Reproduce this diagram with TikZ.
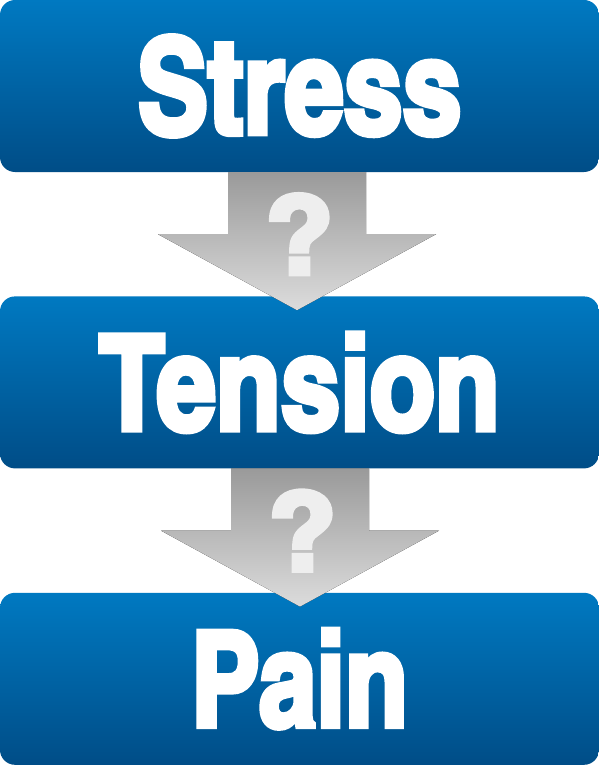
\documentclass[tikz,border=0pt]{standalone}
\usepackage{graphicx}
\usepackage{fontspec}
\setmainfont{texgyreheroscn}[Extension=.otf, UprightFont=*-regular, BoldFont=*-bold,
  BoldFeatures={FakeBold=4}]
\usepackage{tikz}
\usetikzlibrary{positioning}
\usetikzlibrary{calc}

\definecolor{boxtop}{HTML}{0079C1}
\definecolor{boxbot}{HTML}{004D87}
\definecolor{arrtop}{HTML}{9A9A9A}
\definecolor{arrbot}{HTML}{DCDCDC}
\definecolor{qmark}{HTML}{EEEEEE}

\tikzset{
  stage/.style={rounded corners=15pt, top color=boxtop, bottom color=boxbot,
    minimum width=599pt, minimum height=172pt, inner sep=0pt,
    text=white, font=\bfseries},
  qsign/.style={text=qmark, inner sep=0pt, font=\bfseries}
}

\begin{document}
\begin{tikzpicture}[x=1pt,y=-1pt]
\useasboundingbox (0,0) rectangle (599,765);
\fill[white] (0,0) rectangle (599,765);

%stopnie
\node[stage] (stress) at (299.5,86) {\raisebox{-2pt}{\resizebox{324pt}{98pt}{Stress}}};
\node[stage, below=124pt of stress] (tension) {\raisebox{-2pt}{\resizebox{400pt}{97pt}{Tension}}};
\node[stage, below=124pt of tension] (pain) {\raisebox{-2pt}{\resizebox{217pt}{97pt}{Pain}}};

%strzalki z pytajnikiem
\foreach \a/\b/\dx in {stress/tension/-2.5, tension/pain/0.5}
{
  \fill[top color=arrtop, bottom color=arrbot]
    ($(\a.south)+(\dx-69,0)$) -- ++(0,62) -- ++(-70,0)
    -- ($(\b.north)+(\dx,14)$)
    -- ($(\a.south)+(\dx+139,62)$) -- ++(-70,0)
    -- ($(\a.south)+(\dx+69,0)$) -- cycle;
  \node[qsign] (q\a) at ($(\a.south)+(\dx+2,62)$) {\resizebox{68pt}{80pt}{?}};
}

%end
\end{tikzpicture}
\end{document}
